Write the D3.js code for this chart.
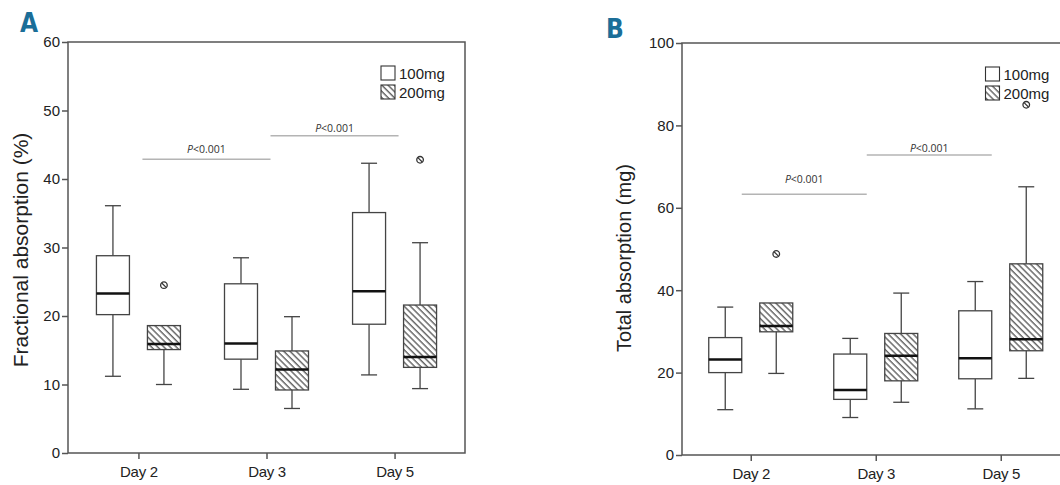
<!DOCTYPE html>
<html>
<head>
<meta charset="utf-8">
<script src="https://cdn.jsdelivr.net/npm/d3@7"></script>
<style>
  body { margin: 0; background: #fff; }
  svg { display: block; }
</style>
</head>
<body>
<script>
var width = 1060;
var height = 485;

var days = ['Day 2', 'Day 3', 'Day 5'];
var doses = ['100mg', '200mg'];

// box stats per day: [whisker low, q1, median, q3, whisker high]
var fractional100 = [[11.2, 20.2, 23.3, 28.8, 36.1], [9.3, 13.7, 16.0, 24.7, 28.5], [11.4, 18.8, 23.6, 35.1, 42.3]];
var fractional200 = [[10.0, 15.1, 15.9, 18.6, 18.6], [6.5, 9.2, 12.2, 14.9, 19.9], [9.4, 12.5, 14.0, 21.6, 30.7]];
var fractionalOutliers = [['Day 2', '200mg', 24.5], ['Day 5', '200mg', 42.8]];
var fractionalTicks = [0, 10, 20, 30, 40, 50, 60];
var fractionalP = [['Day 2', 'Day 3', 42.9], ['Day 3', 'Day 5', 46.3]];

var total100 = [[11.0, 20.0, 23.2, 28.5, 35.9], [9.1, 13.5, 15.8, 24.5, 28.3], [11.2, 18.5, 23.5, 35.0, 42.1]];
var total200 = [[19.8, 29.9, 31.3, 36.9, 36.9], [12.8, 18.0, 24.1, 29.5, 39.3], [18.6, 25.3, 28.1, 46.4, 65.1]];
var totalOutliers = [['Day 2', '200mg', 48.8], ['Day 5', '200mg', 85.0]];
var totalTicks = [0, 20, 40, 60, 80, 100];
var totalP = [['Day 2', 'Day 3', 63.3], ['Day 3', 'Day 5', 72.8]];

var svg = d3.select('body')
  .append('svg')
  .attr('width', width)
  .attr('height', height);

// diagonal hatch for the 200mg boxes
var defs = svg.append('defs');
defs.append('pattern')
  .attr('id', 'hatch')
  .attr('patternUnits', 'userSpaceOnUse')
  .attr('width', 4.4)
  .attr('height', 4.4)
  .attr('patternTransform', 'rotate(-45)')
  .append('line')
  .attr('x1', 1).attr('y1', 0)
  .attr('x2', 1).attr('y2', 4.4)
  .attr('stroke', '#333')
  .attr('stroke-width', 1.1);

function drawPanel(cfg) {
  var g = svg.append('g');

  var xScale = d3.scalePoint()
    .domain(days)
    .range([cfg.left, cfg.right])
    .padding(0.55);

  var doseScale = d3.scalePoint()
    .domain(doses)
    .range([-25.5, 25.5]);

  var yScale = d3.scaleLinear()
    .domain([0, cfg.max])
    .range([cfg.bottom, cfg.top]);

  var boxW = 33;
  var capW = 16;

  // frame
  g.append('rect')
    .attr('x', cfg.left)
    .attr('y', cfg.top)
    .attr('width', cfg.right - cfg.left)
    .attr('height', cfg.bottom - cfg.top)
    .attr('fill', 'none')
    .attr('stroke', '#555')
    .attr('stroke-width', 1.5);

  var yAxis = d3.axisLeft(yScale)
    .tickValues(cfg.ticks)
    .tickSize(6)
    .tickPadding(2);

  var ya = g.append('g')
    .attr('transform', 'translate(' + cfg.left + ',0)')
    .call(yAxis);
  ya.select('.domain').remove();
  ya.selectAll('line').attr('stroke', '#555').attr('stroke-width', 1.5);
  ya.selectAll('text')
    .attr('font-family', 'Liberation Sans, Arial, sans-serif')
    .attr('font-size', '15px')
    .attr('fill', '#222');

  var xAxis = d3.axisBottom(xScale)
    .tickSize(6)
    .tickPadding(7);

  var xa = g.append('g')
    .attr('transform', 'translate(0,' + cfg.bottom + ')')
    .call(xAxis);
  xa.select('.domain').remove();
  xa.selectAll('line').attr('stroke', '#555').attr('stroke-width', 1.5);
  xa.selectAll('text')
    .attr('font-family', 'Liberation Sans, Arial, sans-serif')
    .attr('font-size', '15px')
    .attr('letter-spacing', '-0.3px')
    .attr('fill', '#222');

  // y label
  g.append('text')
    .attr('transform', 'translate(' + cfg.labelX + ',' + cfg.labelY + ') rotate(-90)')
    .attr('text-anchor', 'middle')
    .attr('font-family', 'Liberation Sans, Arial, sans-serif')
    .attr('font-size', cfg.labelSize + 'px')
    .attr('fill', '#222')
    .text(cfg.label);

  // panel letter
  g.append('text')
    .attr('x', cfg.letterX)
    .attr('y', cfg.letterY)
    .attr('font-family', 'DejaVu Sans Condensed, DejaVu Sans, sans-serif')
    .attr('font-stretch', 'condensed')
    .attr('font-weight', 'bold')
    .attr('font-size', '26px')
    .attr('fill', '#1b6e98')
    .text(cfg.letter);

  // p-value brackets
  cfg.pairs.forEach(function(p, i) {
    var x1 = xScale(p[0]) + cfg.pShift;
    var x2 = xScale(p[1]) + cfg.pShift;
    var y = yScale(p[2]);
    g.append('line')
      .attr('x1', x1).attr('x2', x2)
      .attr('y1', y).attr('y2', y)
      .attr('stroke', '#b4b4b4')
      .attr('stroke-width', 1.5);
    var t = g.append('text')
      .attr('x', (x1 + x2) / 2)
      .attr('y', y - cfg.pGap[i])
      .attr('text-anchor', 'middle')
      .attr('font-family', 'Open Sans, sans-serif')
      .attr('font-size', '10.5px')
      .attr('fill', '#333');
    t.append('tspan').attr('font-style', 'italic').text('P');
    t.append('tspan').text('<0.001');
  });

  // boxes
  var boxes = [];
  days.forEach(function(day, i) {
    boxes.push({ day: day, dose: '100mg', s: cfg.low[i] });
    boxes.push({ day: day, dose: '200mg', s: cfg.high[i] });
  });

  var bg = g.selectAll('g.box')
    .data(boxes)
    .enter()
    .append('g')
    .attr('class', 'box')
    .attr('transform', function(d) {
      return 'translate(' + (xScale(d.day) + doseScale(d.dose)) + ',0)';
    });

  // whiskers
  bg.append('line')
    .attr('x1', 0).attr('x2', 0)
    .attr('y1', function(d) { return yScale(d.s[0]); })
    .attr('y2', function(d) { return yScale(d.s[1]); })
    .attr('stroke', '#444').attr('stroke-width', 1.3);
  bg.append('line')
    .attr('x1', 0).attr('x2', 0)
    .attr('y1', function(d) { return yScale(d.s[3]); })
    .attr('y2', function(d) { return yScale(d.s[4]); })
    .attr('stroke', '#444').attr('stroke-width', 1.3);
  bg.append('line')
    .attr('x1', -capW / 2).attr('x2', capW / 2)
    .attr('y1', function(d) { return yScale(d.s[0]); })
    .attr('y2', function(d) { return yScale(d.s[0]); })
    .attr('stroke', '#444').attr('stroke-width', 1.3);
  bg.filter(function(d) { return d.s[4] > d.s[3]; })
    .append('line')
    .attr('x1', -capW / 2).attr('x2', capW / 2)
    .attr('y1', function(d) { return yScale(d.s[4]); })
    .attr('y2', function(d) { return yScale(d.s[4]); })
    .attr('stroke', '#444').attr('stroke-width', 1.3);

  bg.append('rect')
    .attr('x', -boxW / 2)
    .attr('width', boxW)
    .attr('y', function(d) { return yScale(d.s[3]); })
    .attr('height', function(d) { return yScale(d.s[1]) - yScale(d.s[3]); })
    .attr('fill', function(d) { return d.dose === '200mg' ? 'url(#hatch)' : '#fff'; })
    .attr('stroke', '#444')
    .attr('stroke-width', 1.3);

  bg.append('line')
    .attr('x1', -boxW / 2).attr('x2', boxW / 2)
    .attr('y1', function(d) { return yScale(d.s[2]); })
    .attr('y2', function(d) { return yScale(d.s[2]); })
    .attr('stroke', '#111')
    .attr('stroke-width', 2.5);

  // outliers
  var og = g.selectAll('g.outlier')
    .data(cfg.outliers)
    .enter()
    .append('g')
    .attr('transform', function(d) {
      return 'translate(' + (xScale(d[0]) + doseScale(d[1])) + ',' + yScale(d[2]) + ')';
    });
  og.append('circle')
    .attr('r', 3.3)
    .attr('fill', '#fff')
    .attr('stroke', '#333')
    .attr('stroke-width', 1.3);
  og.append('line')
    .attr('x1', -2.2).attr('y1', -2.2)
    .attr('x2', 2.2).attr('y2', 2.2)
    .attr('stroke', '#333')
    .attr('stroke-width', 1.2);

  // legend
  var lg = g.selectAll('g.legend')
    .data(doses)
    .enter()
    .append('g')
    .attr('transform', function(d, i) {
      return 'translate(' + (cfg.right - 84) + ',' + (cfg.legendY + i * 19) + ')';
    });
  lg.append('rect')
    .attr('x', 0).attr('y', -7)
    .attr('width', 14).attr('height', 14)
    .attr('fill', function(d) { return d === '200mg' ? 'url(#hatch)' : '#fff'; })
    .attr('stroke', '#333')
    .attr('stroke-width', 1.1);
  lg.append('text')
    .attr('x', 18)
    .attr('y', 5.5)
    .attr('font-family', 'Liberation Sans, Arial, sans-serif')
    .attr('font-size', '15px')
    .attr('fill', '#222')
    .text(function(d) { return d; });
}

drawPanel({
  left: 68, right: 465, top: 42, bottom: 453,
  max: 60, ticks: fractionalTicks,
  low: fractional100, high: fractional200, outliers: fractionalOutliers,
  pairs: fractionalP, pShift: 4, pGap: [6, 4],
  label: 'Fractional absorption (%)', labelSize: 21, labelX: 28, labelY: 250,
  letter: 'A', letterX: 20, letterY: 32,
  legendY: 73
});

drawPanel({
  left: 682, right: 1069.5, top: 43, bottom: 455,
  max: 100, ticks: totalTicks,
  low: total100, high: total200, outliers: totalOutliers,
  pairs: totalP, pShift: -9, pGap: [11, 3],
  label: 'Total absorption (mg)', labelSize: 20, labelX: 631, labelY: 258,
  letter: 'B', letterX: 606, letterY: 38,
  legendY: 74
});
</script>
</body>
</html>
